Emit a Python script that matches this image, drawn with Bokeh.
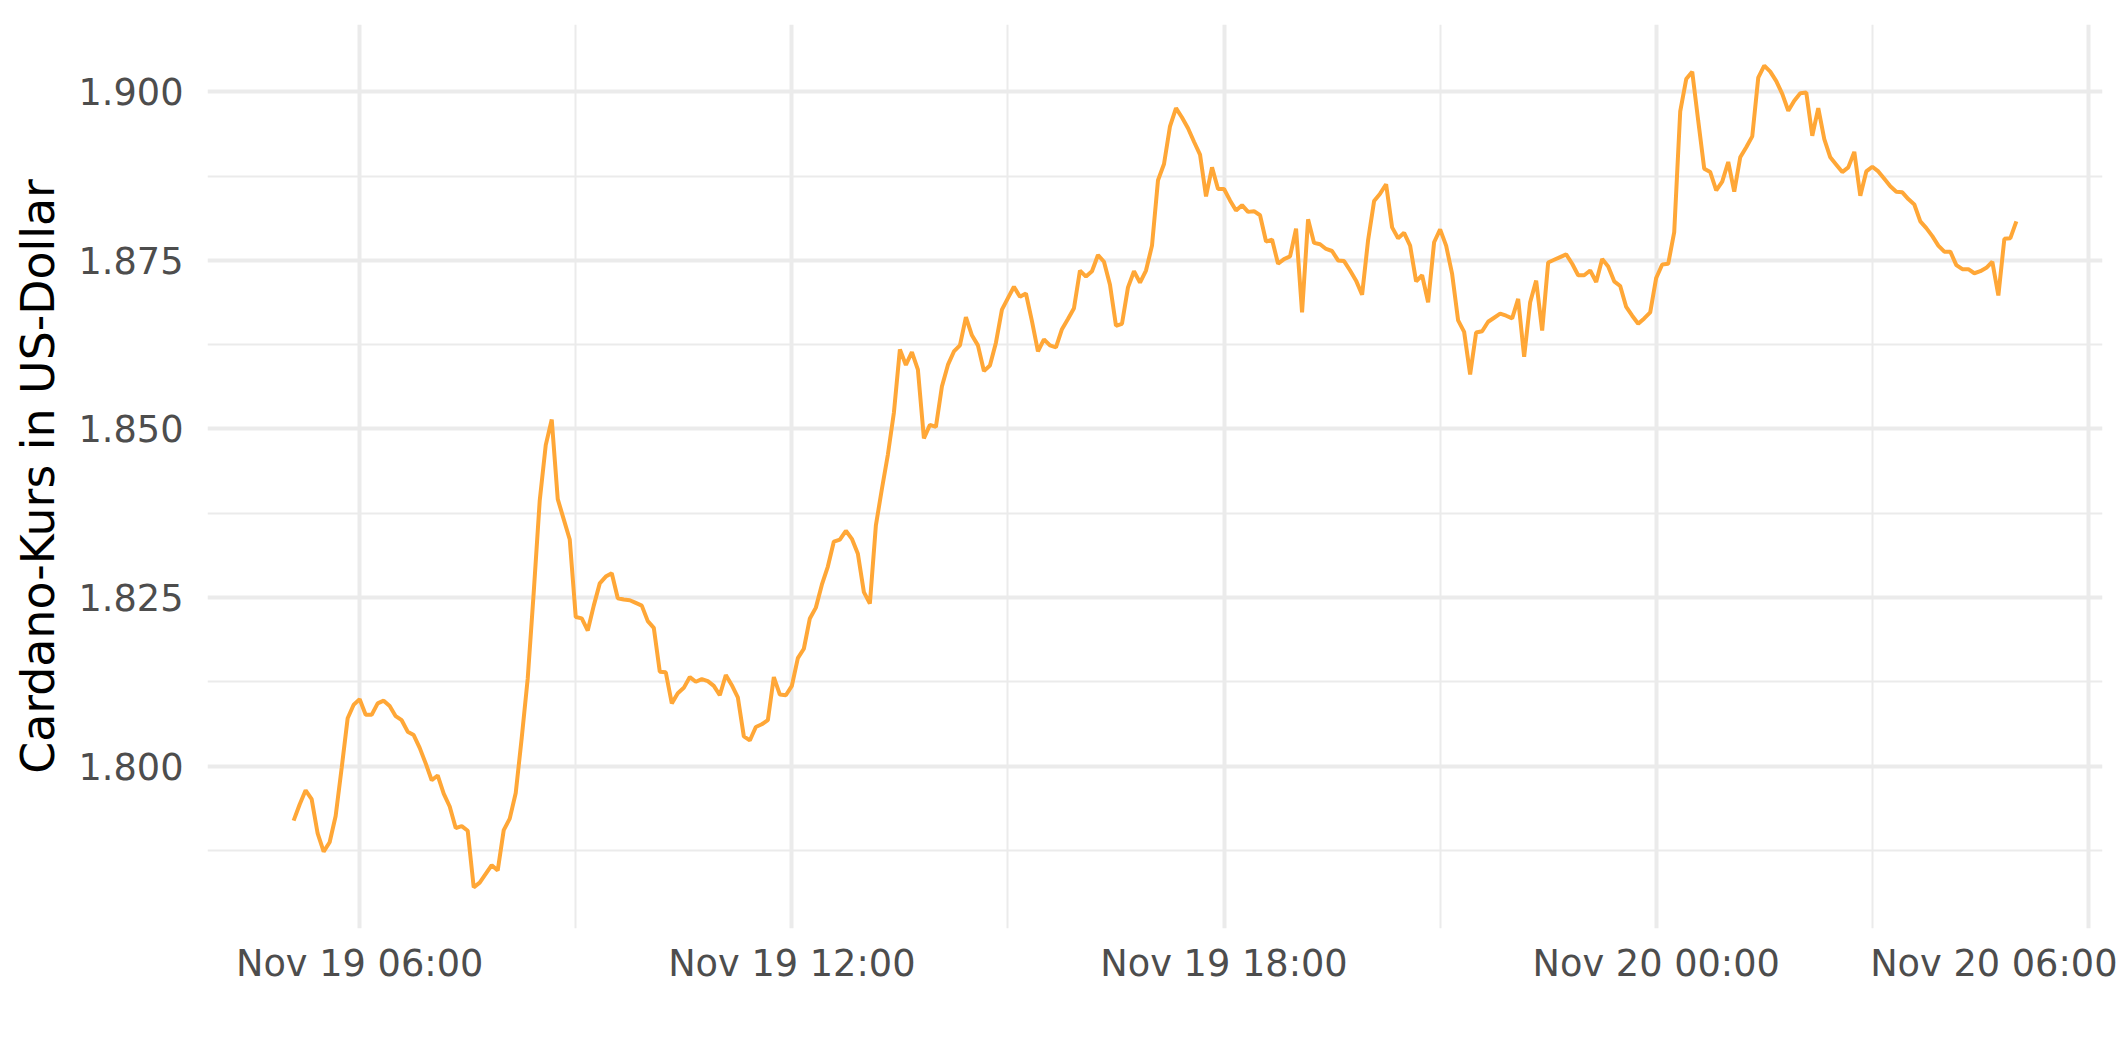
import pandas as pd
from bokeh.plotting import figure
from bokeh.models import (FixedTicker, DatetimeTickFormatter, NumeralTickFormatter,
                          Range1d, ColumnDataSource)
from bokeh.embed import file_html
from bokeh.resources import INLINE

# ---------------- data ----------------
start_time = "2021-11-19 05:05"
interval_minutes = 5
price = [
    1.7919, 1.7943, 1.7964, 1.7951, 1.7900, 1.7873, 1.7887, 1.7926, 1.7997, 1.8071,
    1.8091, 1.8099, 1.8076, 1.8076, 1.8093, 1.8097, 1.8089, 1.8074, 1.8068, 1.8051,
    1.8046, 1.8027, 1.8004, 1.7979, 1.7986, 1.7959, 1.7940, 1.7908, 1.7911, 1.7904,
    1.7820, 1.7827, 1.7840, 1.7853, 1.7845, 1.7905, 1.7922, 1.7960, 1.8042, 1.8130,
    1.8258, 1.8394, 1.8476, 1.8514, 1.8396, 1.8366, 1.8336, 1.8221, 1.8219, 1.8201,
    1.8238, 1.8271, 1.8281, 1.8286, 1.8249, 1.8247, 1.8246, 1.8242, 1.8238, 1.8215,
    1.8205, 1.8140, 1.8139, 1.8093, 1.8108, 1.8116, 1.8132, 1.8125, 1.8129, 1.8126,
    1.8119, 1.8105, 1.8135, 1.8120, 1.8102, 1.8044, 1.8038, 1.8058, 1.8062, 1.8068,
    1.8132, 1.8106, 1.8105, 1.8119, 1.8160, 1.8174, 1.8219, 1.8235, 1.8269, 1.8296,
    1.8333, 1.8336, 1.8349, 1.8337, 1.8315, 1.8258, 1.8241, 1.8357, 1.8411, 1.8462,
    1.8524, 1.8618, 1.8595, 1.8614, 1.8588, 1.8486, 1.8506, 1.8503, 1.8563, 1.8595,
    1.8615, 1.8624, 1.8666, 1.8639, 1.8624, 1.8586, 1.8594, 1.8628, 1.8677, 1.8694,
    1.8711, 1.8696, 1.8701, 1.8660, 1.8615, 1.8633, 1.8624, 1.8621, 1.8648, 1.8663,
    1.8679, 1.8735, 1.8726, 1.8734, 1.8758, 1.8748, 1.8714, 1.8653, 1.8656, 1.8710,
    1.8734, 1.8717, 1.8735, 1.8772, 1.8869, 1.8893, 1.8949, 1.8976, 1.8962, 1.8946,
    1.8926, 1.8907, 1.8845, 1.8888, 1.8856, 1.8856, 1.8839, 1.8824, 1.8832, 1.8822,
    1.8823, 1.8817, 1.8778, 1.8781, 1.8745, 1.8752, 1.8756, 1.8797, 1.8673, 1.8811,
    1.8776, 1.8774, 1.8767, 1.8764, 1.8750, 1.8749, 1.8735, 1.8720, 1.8699, 1.8780,
    1.8838, 1.8849, 1.8863, 1.8799, 1.8783, 1.8791, 1.8772, 1.8719, 1.8728, 1.8688,
    1.8777, 1.8796, 1.8772, 1.8730, 1.8661, 1.8644, 1.8581, 1.8643, 1.8645, 1.8659,
    1.8665, 1.8671, 1.8668, 1.8664, 1.8693, 1.8607, 1.8688, 1.8720, 1.8646, 1.8747,
    1.8751, 1.8755, 1.8759, 1.8745, 1.8728, 1.8728, 1.8735, 1.8718, 1.8752, 1.8741,
    1.8719, 1.8712, 1.8681, 1.8668, 1.8656, 1.8664, 1.8673, 1.8724, 1.8744, 1.8745,
    1.8792, 1.8971, 1.9019, 1.9030, 1.8957, 1.8886, 1.8881, 1.8854, 1.8867, 1.8896,
    1.8852, 1.8903, 1.8918, 1.8934, 1.9021, 1.9039, 1.9030, 1.9016, 1.8997, 1.8972,
    1.8987, 1.8998, 1.8999, 1.8935, 1.8976, 1.8930, 1.8903, 1.8892, 1.8881, 1.8888,
    1.8911, 1.8846, 1.8882, 1.8889, 1.8882, 1.8871, 1.8860, 1.8852, 1.8851, 1.8841,
    1.8833, 1.8808, 1.8798, 1.8786, 1.8772, 1.8763, 1.8763, 1.8743, 1.8737, 1.8737,
    1.8731, 1.8734, 1.8739, 1.8748, 1.8698, 1.8782, 1.8783, 1.8808,
]
x_major_ticks = ["2021-11-19 06:00", "2021-11-19 12:00", "2021-11-19 18:00",
                 "2021-11-20 00:00", "2021-11-20 06:00"]
x_minor_ticks = ["2021-11-19 03:00", "2021-11-19 09:00", "2021-11-19 15:00",
                 "2021-11-19 21:00", "2021-11-20 03:00"]
y_major_ticks = [1.800, 1.825, 1.850, 1.875, 1.900]
y_minor_ticks = [1.7875, 1.8125, 1.8375, 1.8625, 1.8875]
y_label = "Cardano-Kurs in US-Dollar"

# ---------------- build ----------------
times = pd.date_range(start_time, periods=len(price), freq=f"{interval_minutes}min")
src = ColumnDataSource(dict(t=times, v=price))

def ms(s):
    return pd.Timestamp(s).value // 10**6

t0, t1 = times[0], times[-1]
tpad = (t1 - t0) * 0.05
vmin, vmax = min(price), max(price)
vpad = (vmax - vmin) * 0.05

FONT = "DejaVu Sans"
GRID = "#EBEBEB"

p = figure(width=2117, height=1054, output_backend="svg", toolbar_location=None,
           x_axis_type="datetime",
           x_range=Range1d(t0 - tpad, t1 + tpad),
           y_range=Range1d(vmin - vpad, vmax + vpad),
           min_border_left=207, min_border_right=15, min_border_top=24,
           min_border_bottom=126)
p.outline_line_color = None
p.background_fill_color = "white"
p.border_fill_color = "white"

p.line("t", "v", source=src, line_color="#FFA737", line_width=4)

p.xaxis.ticker = FixedTicker(ticks=[ms(s) for s in x_major_ticks],
                             minor_ticks=[ms(s) for s in x_minor_ticks])
p.xaxis.formatter = DatetimeTickFormatter(
    minutes="%b %d %H:%M", hourmin="%b %d %H:%M", hours="%b %d %H:%M",
    days="%b %d %H:%M", months="%b %d %H:%M", years="%b %d %H:%M")
p.yaxis.ticker = FixedTicker(ticks=y_major_ticks, minor_ticks=y_minor_ticks)
p.yaxis.formatter = NumeralTickFormatter(format="0.000")
p.yaxis.axis_label = y_label

for ax in (p.xaxis[0], p.yaxis[0]):
    ax.axis_line_color = None
    ax.major_tick_line_color = None
    ax.minor_tick_line_color = None
    ax.major_tick_out = 0
    ax.major_tick_in = 0
    ax.minor_tick_out = 0
    ax.minor_tick_in = 0
    ax.major_label_text_font = FONT
    ax.major_label_text_font_size = "36.7px"
    ax.major_label_text_color = "#4D4D4D"
    ax.axis_label_text_font = FONT
    ax.axis_label_text_font_size = "45.8px"
    ax.axis_label_text_font_style = "normal"
    ax.axis_label_text_color = "black"

p.xaxis.major_label_standoff = 13
p.yaxis.major_label_standoff = 24
p.yaxis.axis_label_standoff = 10

for g in (p.xgrid[0], p.ygrid[0]):
    g.grid_line_color = GRID
    g.grid_line_width = 4
    g.minor_grid_line_color = GRID
    g.minor_grid_line_width = 2

open("out.html", "w").write(file_html(p, INLINE))
